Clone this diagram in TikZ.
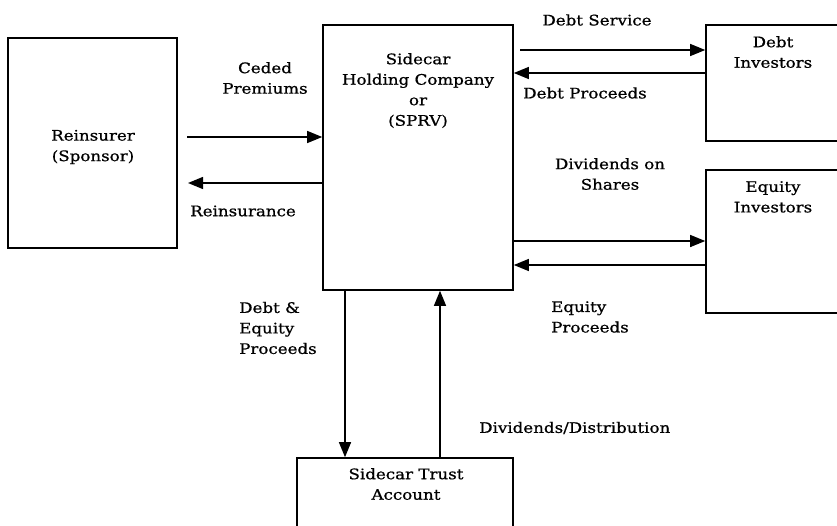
\documentclass[tikz,border=0pt]{standalone}
\usepackage{fontspec}
\setmainfont[FakeStretch=1.15, FakeBold=0.8]{DejaVu Serif}
\usetikzlibrary{arrows.meta, positioning}
\tikzset{%
	box/.style={draw, line width=1.6pt, rectangle, inner sep=0pt, align=center},
	txt/.style={inner sep=0pt, align=center, font=\fontsize{14.5}{20.5}\selectfont},
	flow/.style={line width=1.3pt, -{Triangle[length=15pt, width=12pt]}}
}
\begin{document}
\begin{tikzpicture}[x=1pt, y=-1pt]
	\useasboundingbox (0,0) rectangle (837,525);
	\node[box, minimum width=169pt, minimum height=210pt] (rein) at (92.5,143) {};
	\node[box, minimum width=190pt, minimum height=265pt] (sprv) at (418,157.5) {};
	\node[box, minimum width=144pt, minimum height=116pt] (debt) at (778,83) {};
	\node[box, minimum width=144pt, minimum height=143pt] (equity) at (778,241.5) {};
	\node[box, minimum width=216pt, minimum height=82pt] (trust) at (405,499) {};

	\node[txt] (reintxt) at (93,147) {Reinsurer\\(Sponsor)};
	\node[txt, anchor=north] (sprvtxt) at (418,53) {Sidecar\\Holding Company\\or\\(SPRV)};
	\node[txt, anchor=north] (debttxt) at (773,36) {Debt\\Investors};
	\node[txt, anchor=north] (equitytxt) at (773,181) {Equity\\Investors};
	\node[txt, anchor=north] (trusttxt) at (406,468) {Sidecar Trust\\Account};

	% flows between reinsurer and sidecar
	\coordinate (ceded) at (187,137);
	\draw[flow] (ceded) -- (sprv.west |- ceded);
	\coordinate (reins) at (188,183);
	\draw[flow] (sprv.west |- reins) -- (reins);
	\node[txt] (cededlbl) at (265,78) {Ceded\\Premiums};
	\node[txt] (reinslbl) at (243,211) {Reinsurance};

	% flows to investors
	\coordinate (service) at (520,50);
	\draw[flow] (service) -- (debt.west |- service);
	\draw[flow] (debt.west |- 0,73) -- (sprv.east |- 0,73);
	\draw[flow] (sprv.east |- 0,241) -- (equity.west |- 0,241);
	\draw[flow] (equity.west |- 0,265) -- (sprv.east |- 0,265);
	\node[txt] (servicelbl) at (597,20) {Debt Service};
	\node[txt] (proceedslbl) at (585,93) {Debt Proceeds};
	\node[txt] (divlbl) at (610,174) {Dividends on\\Shares};
	\node[txt, align=left, anchor=west] (eqproclbl) at (551,317) {Equity\\Proceeds};

	% flows to the trust account
	\draw[flow] (sprv.south -| 345,0) -- (trust.north -| 345,0);
	\draw[flow] (trust.north -| 440,0) -- (sprv.south -| 440,0);
	\node[txt, align=left, anchor=west] (deqlbl) at (239,328) {Debt \&\\Equity\\Proceeds};
	\node[txt, anchor=west] (distlbl) at (479,428) {Dividends/Distribution};
\end{tikzpicture}
\end{document}
